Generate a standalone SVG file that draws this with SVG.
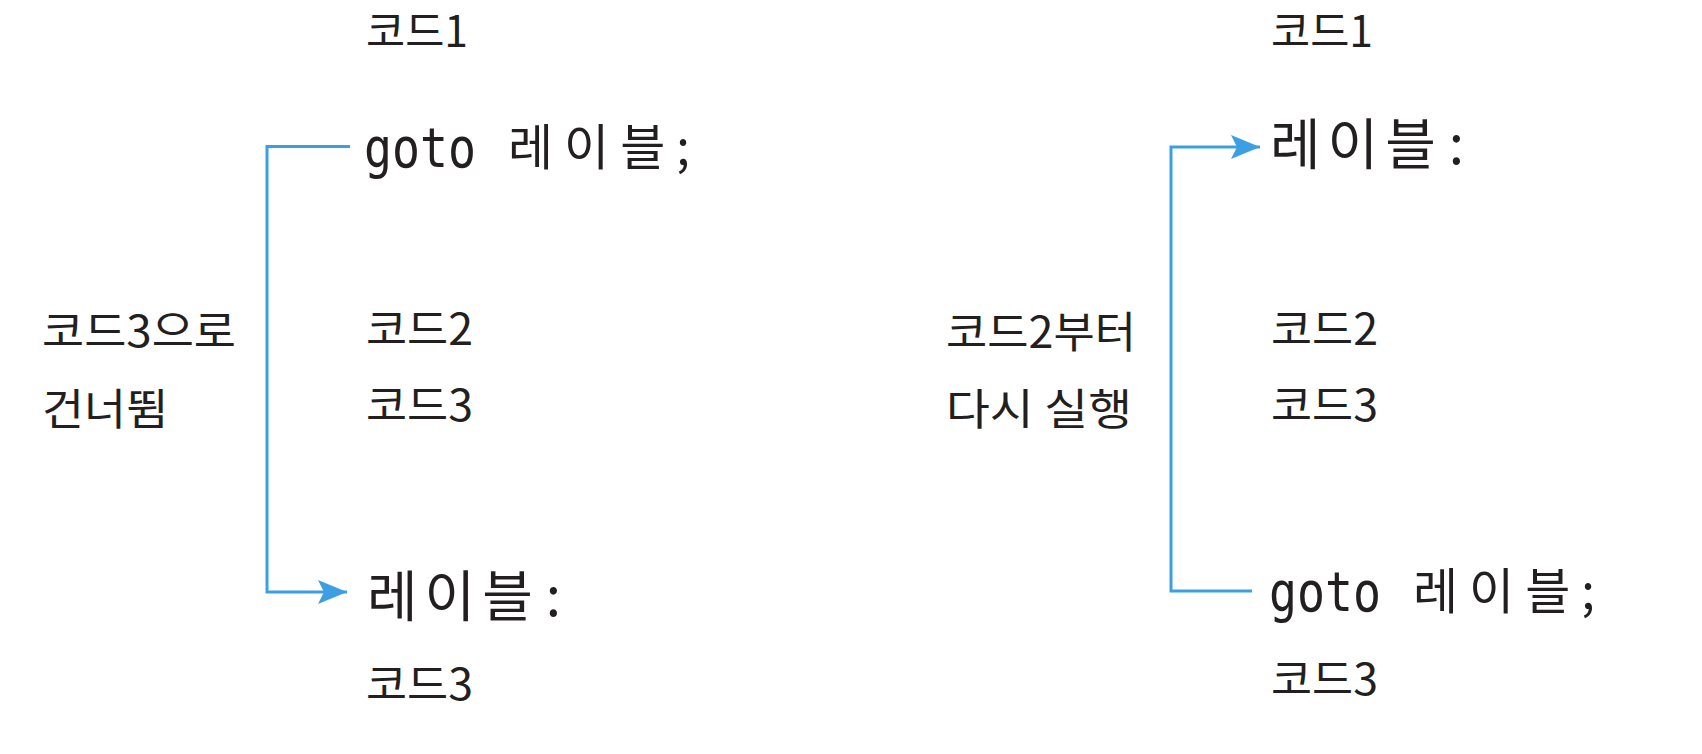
<svg xmlns="http://www.w3.org/2000/svg" width="1702" height="754" viewBox="0 0 1702 754">
<defs>
<style>
.code{font-family:"Noto Sans CJK KR","Liberation Sans",sans-serif;font-size:43px;fill:#231f20;}
.note{font-family:"Noto Sans CJK KR","Liberation Sans",sans-serif;font-size:43px;fill:#231f20;}
.kw{font-family:"DejaVu Sans Mono","Liberation Mono",monospace;font-size:55px;fill:#231f20;}
.lbl{font-family:"Noto Sans CJK KR",sans-serif;font-size:49px;font-weight:400;fill:#231f20;}
.lblb{font-family:"Noto Sans CJK KR",sans-serif;font-size:55px;font-weight:400;fill:#231f20;}
.conn{fill:none;stroke:#3d9fe3;stroke-width:3;}
</style>
<marker id="arr" markerWidth="30" markerHeight="24" refX="29" refY="12" orient="auto" markerUnits="userSpaceOnUse">
<path d="M0,0 L29,12 L0,24 L6,12 Z" fill="#3d9fe3"/>
</marker>
</defs>
<rect width="1702" height="754" fill="#ffffff"/>

<g id="left">
<g id="l-code1"><text class="code" x="366" y="47" textLength="102" lengthAdjust="spacingAndGlyphs">코드1</text></g>
<g id="l-goto"><text class="kw" x="364" y="167" textLength="112" lengthAdjust="spacingAndGlyphs">goto</text><text class="lbl" x="508" y="165" letter-spacing="11">레이블<tspan dx="0">;</tspan></text></g>
<g id="l-code2"><text class="code" x="366" y="345" textLength="107" lengthAdjust="spacingAndGlyphs">코드2</text></g>
<g id="l-code3"><text class="code" x="366" y="421" textLength="107" lengthAdjust="spacingAndGlyphs">코드3</text></g>
<g id="l-label"><text class="lblb" x="367" y="616" letter-spacing="7">레이블<tspan dx="6">:</tspan></text></g>
<g id="l-code3b"><text class="code" x="366" y="700" textLength="107" lengthAdjust="spacingAndGlyphs">코드3</text></g>
<g id="l-note"><text class="note" x="42" y="347" textLength="194" lengthAdjust="spacingAndGlyphs">코드3으로</text><text class="note" x="42" y="425" textLength="126" lengthAdjust="spacingAndGlyphs">건너뜀</text></g>
</g>

<g id="right">
<g id="r-code1"><text class="code" x="1271" y="47" textLength="102" lengthAdjust="spacingAndGlyphs">코드1</text></g>
<g id="r-label"><text class="lblb" x="1270" y="164" letter-spacing="7">레이블<tspan dx="6">:</tspan></text></g>
<g id="r-code2"><text class="code" x="1271" y="345" textLength="107" lengthAdjust="spacingAndGlyphs">코드2</text></g>
<g id="r-code3"><text class="code" x="1271" y="421" textLength="107" lengthAdjust="spacingAndGlyphs">코드3</text></g>
<g id="r-goto"><text class="kw" x="1269" y="611" textLength="112" lengthAdjust="spacingAndGlyphs">goto</text><text class="lbl" x="1413" y="609" letter-spacing="11">레이블<tspan dx="0">;</tspan></text></g>
<g id="r-code3b"><text class="code" x="1271" y="695" textLength="107" lengthAdjust="spacingAndGlyphs">코드3</text></g>
<g id="r-note"><text class="note" x="946" y="348" textLength="190" lengthAdjust="spacingAndGlyphs">코드2부터</text><text class="note" x="946" y="425" textLength="186" lengthAdjust="spacingAndGlyphs">다시 실행</text></g>
</g>

<g id="connectors">
<path class="conn" d="M350,146.5 H267 V592 H347" marker-end="url(#arr)"/>
<path class="conn" d="M1252,591 H1171 V147 H1260" marker-end="url(#arr)"/>
</g>
</svg>
